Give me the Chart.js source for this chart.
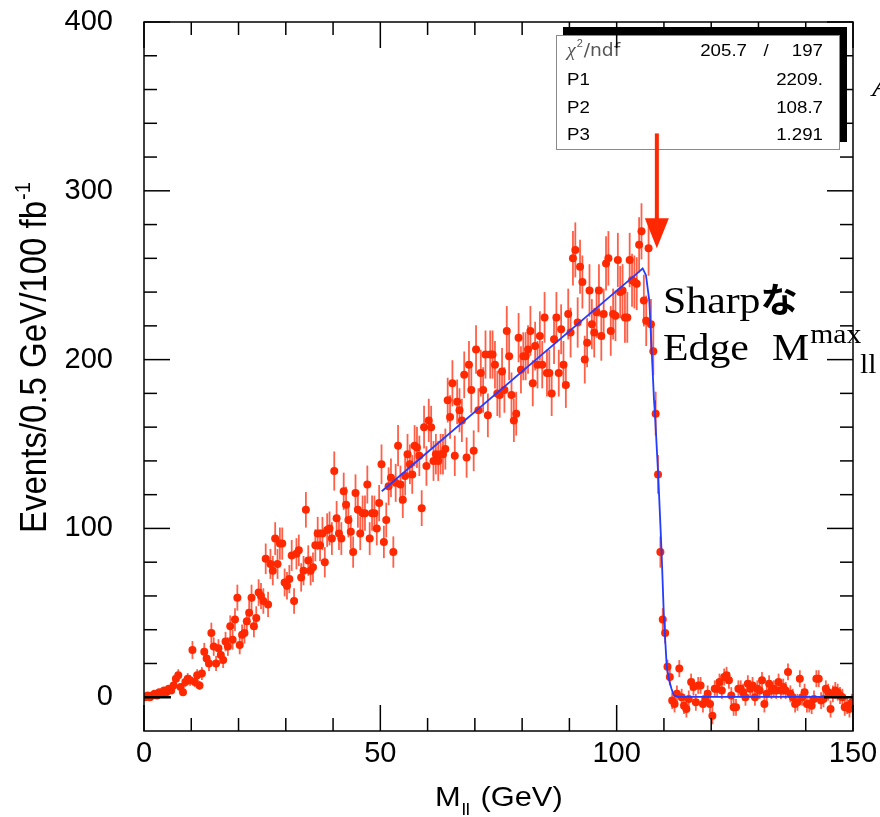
<!DOCTYPE html>
<html>
<head>
<meta charset="utf-8">
<script src="https://cdn.jsdelivr.net/npm/chart.js@4.4.0/dist/chart.umd.min.js"></script>
<style>
  html, body { margin: 0; padding: 0; background: #fff; }
  #wrap { width: 880px; height: 817px; }
</style>
</head>
<body>
<div id="wrap"><canvas id="edge-chart" width="880" height="817"></canvas></div>
<script>
// dilepton invariant mass, events per 0.5 GeV bin (0 - 150 GeV)
const binWidth = 0.5;
const events = [
    0, 1, 0, 1, 2, 1, 3, 2, 4, 3,
    5, 4, 7, 11, 13, 6, 3, 9, 11, 10,
    28, 9, 13, 7, 14, 27, 23, 20, 38, 30,
    20, 29, 25, 22, 33, 30, 42, 34, 46, 59,
    31, 37, 38, 45, 50, 59, 42, 47, 62, 60,
    57, 82, 55, 79, 75, 94, 79, 91, 91, 68,
    66, 70, 84, 57, 85, 87, 71, 75, 111, 81,
    75, 77, 90, 97, 90, 97, 80, 99, 100, 94,
    134, 106, 97, 94, 122, 114, 105, 98, 86, 121,
    111, 97, 109, 109, 126, 94, 109, 109, 100, 115,
    138, 92, 105, 125, 130, 86, 127, 149, 126, 117,
    131, 144, 138, 132, 149, 148, 143, 112, 160, 137,
    164, 160, 140, 144, 140, 144, 144, 147, 176, 166,
    186, 143, 175, 170, 164, 191, 142, 197, 182, 146,
    206, 170, 192, 182, 203, 167, 203, 203, 197, 180,
    179, 193, 182, 217, 202, 179, 164, 168, 213, 194,
    202, 202, 206, 217, 186, 208, 197, 214, 197, 225,
    192, 192, 180, 212, 225, 192, 218, 197, 185, 227,
    216, 260, 265, 222, 255, 246, 200, 210, 241, 221,
    216, 228, 241, 214, 227, 257, 260, 217, 227, 226,
    259, 240, 241, 225, 225, 259, 247, 246, 245, 268,
    276, 235, 223, 266, 221, 205, 168, 132, 86, 46,
    38, 18, 12, -2, -4, 2, 17, 0, -5, -7,
    -1, 9, 6, -3, 7, 7, -4, -1, 2, -4,
    -11, 5, 5, 9, 4, 12, 13, 10, 1, -6,
    -6, 5, 5, 3, 0, 8, 5, 7, 0, 5,
    4, 10, -4, 2, 8, 4, 5, 4, 9, 4,
    6, 4, 15, 2, 0, -4, -3, 11, 0, 3,
    -4, -4, -5, -1, 11, 11, -2, -1, 5, 3,
    -7, 2, 4, 3, 1, 0, -6, -5, -7, -3
];
const tailError = 5;      // error bar size above the edge (background subtracted)

// fit curve
const fitMass   = [50.3, 104.5, 105.5, 106.2, 106.9, 107.4, 107.9, 108.1, 108.8, 109.5, 110.0, 110.6, 111.1, 111.6, 112.1, 113.0, 150];
const fitEvents = [122, 251.5, 254, 250, 235, 206, 176, 168, 131, 86, 47, 18, 10, 5, 1.2, 0.2, 0.2];

// black zero segments at both ends
const zeroMass = [0, 5.7, null, 143.9, 150];

const xTickLabels = [0, 50, 100, 150];
const yTickLabels = [0, 100, 200, 300, 400];

const statLabels = ['P1', 'P2', 'P3'];
const statValues = ['2209.', '108.7', '1.291'];
const chi2 = '205.7';
const ndf = '197';

const edgeArrow = { mass: 108.5, from: 334, to: 266 };

const RED = 'rgb(255, 40, 0)';
const BLUE = 'rgb(35, 60, 255)';
const STRETCH = 1.1;

function binCenter(i) {
    return (i + 0.5) * binWidth;
}

const eventErrors = events.map((v, i) => binCenter(i) < 111 ? Math.sqrt(Math.abs(v)) : tailError);

function stretchText(ctx, text, x, y, font, align) {
    ctx.save();
    ctx.font = font;
    ctx.translate(x, y);
    ctx.scale(STRETCH, 1);
    ctx.textAlign = align || 'left';
    ctx.textBaseline = 'alphabetic';
    ctx.fillText(text, 0, 0);
    const w = ctx.measureText(text).width * STRETCH;
    ctx.restore();
    return w;
}

function line(ctx, x1, y1, x2, y2) {
    ctx.beginPath();
    ctx.moveTo(x1, y1);
    ctx.lineTo(x2, y2);
    ctx.stroke();
}

const errorBars = {
    id: 'errorBars',
    beforeDatasetsDraw(chart) {
        const {ctx, chartArea, scales: {x, y}} = chart;
        ctx.save();
        ctx.beginPath();
        ctx.rect(chartArea.left, chartArea.top, chartArea.right - chartArea.left, chartArea.bottom - chartArea.top);
        ctx.clip();
        ctx.strokeStyle = 'rgba(255, 55, 25, 0.8)';
        ctx.lineWidth = 1.8;
        events.forEach((v, i) => {
            const px = x.getPixelForValue(binCenter(i));
            line(ctx, px, y.getPixelForValue(v - eventErrors[i]), px, y.getPixelForValue(v + eventErrors[i]));
        });
        ctx.restore();
    }
};

function drawStatsBox(ctx) {
    ctx.save();
    ctx.fillStyle = '#000';
    ctx.fillRect(563, 27, 284, 115);
    ctx.fillStyle = '#fff';
    ctx.fillRect(556, 35, 283, 114);
    ctx.strokeStyle = '#8a8a8a';
    ctx.lineWidth = 1;
    ctx.strokeRect(556.5, 35.5, 283, 114);

    const font = '17px "Liberation Sans", Arial, sans-serif';
    ctx.fillStyle = '#555';
    let w = stretchText(ctx, '\u03c7', 567, 56, 'italic 18px "Liberation Serif", serif');
    stretchText(ctx, '2', 567 + w + 1, 47, '10px "Liberation Sans", sans-serif');
    stretchText(ctx, '/ndf', 567 + w + 8, 56, '17px "DejaVu Sans", sans-serif');
    ctx.fillStyle = '#000';
    stretchText(ctx, chi2, 747, 56, font, 'right');
    stretchText(ctx, '/', 766, 56, font, 'center');
    stretchText(ctx, ndf, 823, 56, font, 'right');

    const rowY = [85, 113, 140];
    statLabels.forEach((lab, i) => {
        stretchText(ctx, lab, 567, rowY[i], font);
        stretchText(ctx, statValues[i], 823, rowY[i], font, 'right');
    });
    ctx.restore();
}

function drawFrame(ctx, area, x, y) {
    ctx.save();
    ctx.strokeStyle = '#000';
    ctx.lineWidth = 1.5;
    ctx.strokeRect(area.left, area.top, area.right - area.left, area.bottom - area.top);
    for (let m = 0; m <= 150; m += 10) {
        const px = x.getPixelForValue(m);
        const len = m % 50 === 0 ? 26 : 13;
        line(ctx, px, area.bottom, px, area.bottom - len);
        line(ctx, px, area.top, px, area.top + len);
    }
    for (let v = 0; v <= 400; v += 20) {
        const py = y.getPixelForValue(v);
        const len = v % 100 === 0 ? 26 : 13;
        line(ctx, area.left, py, area.left + len, py);
        line(ctx, area.right, py, area.right - len, py);
    }
    ctx.restore();
}

function drawArrow(ctx, x, y) {
    const px = x.getPixelForValue(edgeArrow.mass);
    const top = y.getPixelForValue(edgeArrow.from);
    const tip = y.getPixelForValue(edgeArrow.to);
    ctx.save();
    ctx.strokeStyle = RED;
    ctx.fillStyle = RED;
    ctx.lineWidth = 4;
    line(ctx, px, top, px, tip - 25);
    ctx.beginPath();
    ctx.moveTo(px - 12, tip - 30);
    ctx.lineTo(px + 12, tip - 30);
    ctx.lineTo(px, tip);
    ctx.closePath();
    ctx.fill();
    ctx.restore();
}

function drawTexts(ctx) {
    ctx.save();
    ctx.fillStyle = '#000';

    // y title
    ctx.save();
    ctx.translate(46, 533);
    ctx.scale(STRETCH, 1);
    ctx.rotate(-Math.PI / 2);
    ctx.font = '33px "Liberation Sans", Arial, sans-serif';
    ctx.textBaseline = 'alphabetic';
    const main = 'Events/0.5 GeV/100 fb';
    ctx.fillText(main, 0, 0);
    const mw = ctx.measureText(main).width;
    ctx.font = '20px "Liberation Sans", Arial, sans-serif';
    ctx.fillText('-1', mw + 1, -15);
    ctx.restore();

    // x title
    const sans = '"Liberation Sans", Arial, sans-serif';
    let cx = 435;
    cx += stretchText(ctx, 'M', cx, 806, '28px ' + sans);
    cx += stretchText(ctx, 'll', cx + 1, 815, '17px ' + sans) + 3;
    stretchText(ctx, ' (GeV)', cx, 806, '28px ' + sans);

    // edge annotation
    const serif = '"Liberation Serif", "Times New Roman", serif';
    let sx = 663;
    sx += stretchText(ctx, 'Sharp', sx, 313, '38px ' + serif);
    stretchText(ctx, '\u306a', sx, 312, 'bold 34px "Noto Sans CJK JP", sans-serif');
    stretchText(ctx, 'Edge', 663, 360, '38px ' + serif);
    const mx = 772;
    const mW = stretchText(ctx, 'M', mx, 360, '38px ' + serif);
    stretchText(ctx, 'max', mx + mW + 1, 343, '27px ' + serif);
    stretchText(ctx, 'll', 860, 373, '27px ' + serif);

    // cut glyph at the right border
    stretchText(ctx, 'A', 872, 96, 'italic 30px ' + serif);
    ctx.restore();
}

const decorations = {
    id: 'decorations',
    afterDraw(chart) {
        const {ctx, chartArea, scales: {x, y}} = chart;
        drawStatsBox(ctx);
        drawFrame(ctx, chartArea, x, y);
        drawArrow(ctx, x, y);
        drawTexts(ctx);
    }
};

// keep the plot frame where the reference has it: 144..853 x 22..731
function pinScale(s, size) {
    if (s.isHorizontal()) {
        s.height = size;
    } else {
        s.width = size;
    }
    s.paddingTop = 0;
    s.paddingBottom = 0;
    s.paddingLeft = 0;
    s.paddingRight = 0;
}

function buildChart() {
    const ctx = document.getElementById('edge-chart').getContext('2d');
    const tickFont = { family: '"Liberation Sans", Arial, sans-serif', size: 29 };
    new Chart(ctx, {
        type: 'scatter',
        data: {
            datasets: [
                {
                    label: 'zero',
                    data: zeroMass.map(m => ({x: m === null ? 50 : m, y: m === null ? null : 0})),
                    showLine: true,
                    spanGaps: false,
                    borderColor: '#000',
                    borderWidth: 2.5,
                    pointRadius: 0,
                    order: 0
                },
                {
                    label: 'fit',
                    data: fitMass.map((m, i) => ({x: m, y: fitEvents[i]})),
                    showLine: true,
                    borderColor: BLUE,
                    borderWidth: 1.8,
                    pointRadius: 0,
                    tension: 0,
                    order: 1
                },
                {
                    label: 'events',
                    data: events.map((v, i) => ({x: binCenter(i), y: v})),
                    showLine: false,
                    pointRadius: 4,
                    pointBackgroundColor: RED,
                    pointBorderWidth: 0,
                    order: 2
                }
            ]
        },
        options: {
            responsive: false,
            animation: false,
            events: [],
            layout: { padding: { left: 0, right: 27, top: 22, bottom: 0 } },
            plugins: { legend: { display: false }, tooltip: { enabled: false } },
            scales: {
                x: {
                    type: 'linear',
                    min: 0,
                    max: 150,
                    grid: { display: false, drawTicks: false },
                    border: { display: false },
                    afterBuildTicks: s => { s.ticks = xTickLabels.map(v => ({value: v})); },
                    afterFit: s => pinScale(s, 86),
                    ticks: { font: tickFont, color: '#000', padding: 6, maxRotation: 0, autoSkip: false }
                },
                y: {
                    type: 'linear',
                    min: -20,
                    max: 400,
                    grid: { display: false, drawTicks: false },
                    border: { display: false },
                    afterBuildTicks: s => { s.ticks = yTickLabels.map(v => ({value: v})); },
                    afterFit: s => pinScale(s, 144),
                    ticks: { font: tickFont, color: '#000', padding: 31, autoSkip: false }
                }
            }
        },
        plugins: [errorBars, decorations]
    });
}

document.addEventListener('DOMContentLoaded', () => {
    buildChart();
});
</script>
</body>
</html>
